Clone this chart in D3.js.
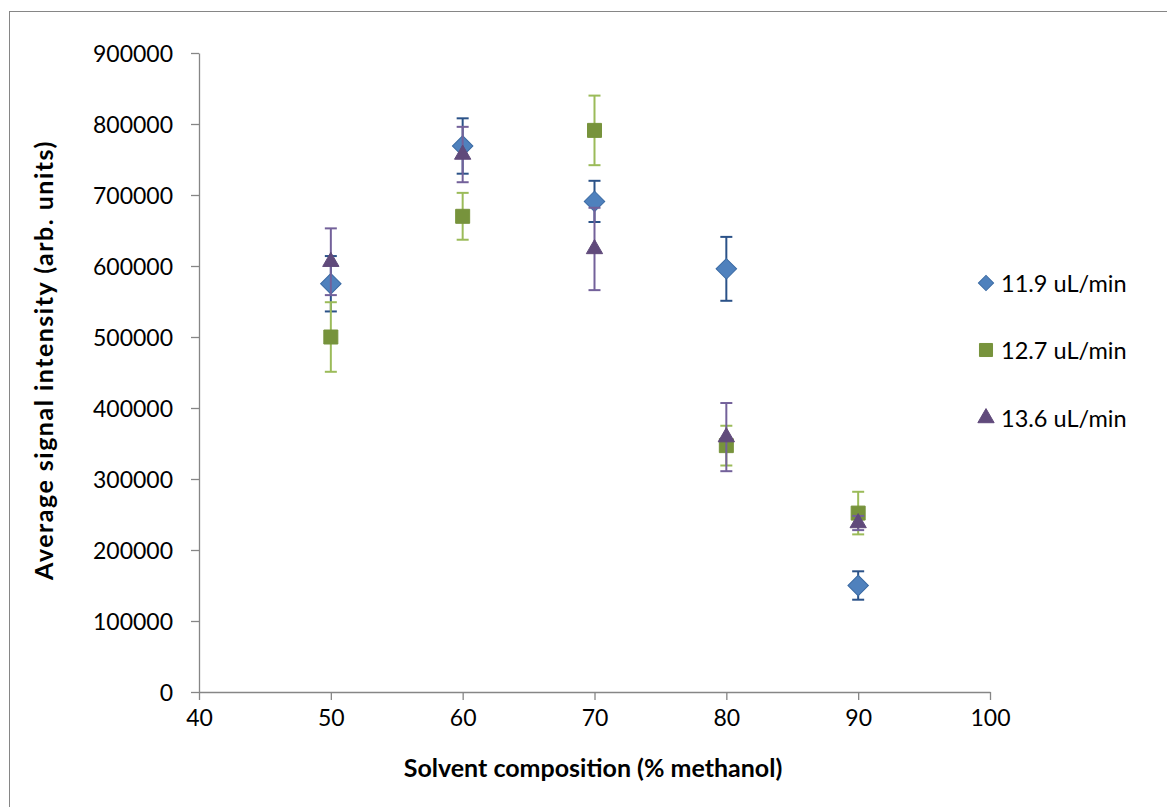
<!DOCTYPE html>
<html>
<head>
<meta charset="utf-8">
<script src="https://cdn.jsdelivr.net/npm/d3@7"></script>
<style>
  body { margin: 0; background: #fff; }
  svg { display: block; font-family: Lato, "Open Sans", sans-serif; }
</style>
</head>
<body>
<svg id="chart" width="1167" height="807"></svg>
<script>
var WIDTH = 1167;
var HEIGHT = 807;

// methanol % on the x axis
var solvent = [50, 60, 70, 80, 90];

// average signal and error for each flow rate
var flowLabels = ['11.9 uL/min', '12.7 uL/min', '13.6 uL/min'];
var signal119 = [575000, 769000, 691000, 596000, 150000];
var error119 = [39000, 39000, 29000, 45000, 20000];
var signal127 = [500000, 670000, 791000, 347000, 252000];
var error127 = [49000, 33000, 49000, 28000, 30000];
var signal136 = [606000, 757000, 624000, 359000, 238000];
var error136 = [47000, 39000, 58000, 48000, 10000];

var xTicks = [40, 50, 60, 70, 80, 90, 100];
var yTicks = [0, 100000, 200000, 300000, 400000, 500000, 600000, 700000, 800000, 900000];

var series = [
  { label: flowLabels[0], values: signal119, errors: error119, symbol: 'diamond', fill: '#4F81BD', stroke: '#3A6AA3', bar: '#2B5288' },
  { label: flowLabels[1], values: signal127, errors: error127, symbol: 'square', fill: '#77933C', stroke: '#77933C', bar: '#9BBB59' },
  { label: flowLabels[2], values: signal136, errors: error136, symbol: 'triangle', fill: '#604A7B', stroke: '#604A7B', bar: '#73619A' }
];

var svg = d3.select('#chart');

// outer chart frame (right and bottom fall outside the picture)
svg.append('rect')
  .attr('x', 9.5).attr('y', 11.5)
  .attr('width', 1200).attr('height', 900)
  .attr('fill', 'none')
  .attr('stroke', '#868686');

var x = d3.scaleLinear().domain([40, 100]).range([199, 990]);
var y = d3.scaleLinear().domain([0, 900000]).range([692, 53]);

var xAxis = svg.append('g')
  .attr('transform', 'translate(0,' + y(0) + ')')
  .call(d3.axisBottom(x).tickValues(xTicks).tickSize(8).tickSizeOuter(0).tickPadding(10).tickFormat(d3.format('d')));

var yAxis = svg.append('g')
  .attr('transform', 'translate(' + x(40) + ',0)')
  .call(d3.axisLeft(y).tickValues(yTicks).tickSize(8).tickSizeOuter(0).tickPadding(18).tickFormat(d3.format('d')));

[xAxis, yAxis].forEach(function(ax) {
  ax.selectAll('path, line').attr('stroke', '#868686').attr('stroke-width', 1.3);
  ax.selectAll('text').attr('fill', '#000').style('font-size', '23px').style('font-family', 'Lato');
});
yAxis.selectAll('text').attr('dy', '0.36em');

// axis titles
var xTitle = svg.append('text')
  .attr('x', 593).attr('y', 777)
  .attr('text-anchor', 'middle')
  .style('font-size', '25px').style('font-weight', 'bold')
  .text('Solvent composition (% methanol)');

var yTitle = svg.append('text')
  .attr('transform', 'translate(53,360) rotate(-90)')
  .attr('text-anchor', 'middle')
  .style('font-size', '25px').style('font-weight', 'bold')
  .text('Average signal intensity (arb. units)');

// stretch the y title a little with letter spacing so it spans like the original
var yLen = yTitle.node().getComputedTextLength();
var yChars = yTitle.text().length;
var spacing = Math.max(0, Math.min(1.5, (470 - yLen) / yChars));
yTitle.style('letter-spacing', spacing + 'px');

function markerPath(kind, big) {
  if (kind === 'diamond') return d3.symbol().type(d3.symbolSquare).size(big ? 210 : 115)();
  if (kind === 'square') return d3.symbol().type(d3.symbolSquare).size(big ? 196 : 170)();
  return d3.symbol().type(d3.symbolTriangle).size(115)();
}

var capHalf = 6;

series.forEach(function(s) {
  var g = svg.append('g');
  var pts = solvent.map(function(v, i) { return { x: v, y: s.values[i], e: s.errors[i] }; });

  var bars = g.selectAll('g.err').data(pts).enter().append('g')
    .attr('stroke', s.bar).attr('stroke-width', 2);
  bars.append('line')
    .attr('x1', function(d) { return x(d.x); }).attr('x2', function(d) { return x(d.x); })
    .attr('y1', function(d) { return y(d.y - d.e); }).attr('y2', function(d) { return y(d.y + d.e); });
  bars.append('line')
    .attr('x1', function(d) { return x(d.x) - capHalf; }).attr('x2', function(d) { return x(d.x) + capHalf; })
    .attr('y1', function(d) { return y(d.y + d.e); }).attr('y2', function(d) { return y(d.y + d.e); });
  bars.append('line')
    .attr('x1', function(d) { return x(d.x) - capHalf; }).attr('x2', function(d) { return x(d.x) + capHalf; })
    .attr('y1', function(d) { return y(d.y - d.e); }).attr('y2', function(d) { return y(d.y - d.e); });

  g.selectAll('path.mark').data(pts).enter().append('path')
    .attr('d', markerPath(s.symbol, true))
    .attr('transform', function(d) {
      return 'translate(' + x(d.x) + ',' + y(d.y) + ')' + (s.symbol === 'diamond' ? ' rotate(45)' : '');
    })
    .attr('fill', s.fill)
    .attr('stroke', s.stroke)
    .attr('stroke-width', 1);
});

// legend
var legendY = [283, 350, 418];
var legend = svg.append('g');
series.forEach(function(s, i) {
  legend.append('path')
    .attr('d', markerPath(s.symbol, false))
    .attr('transform', 'translate(986,' + legendY[i] + ')' + (s.symbol === 'diamond' ? ' rotate(45)' : ''))
    .attr('fill', s.fill)
    .attr('stroke', s.stroke);
  legend.append('text')
    .attr('x', 1001).attr('y', legendY[i] + 9)
    .style('font-size', '23.5px')
    .text(s.label);
});
</script>
</body>
</html>
